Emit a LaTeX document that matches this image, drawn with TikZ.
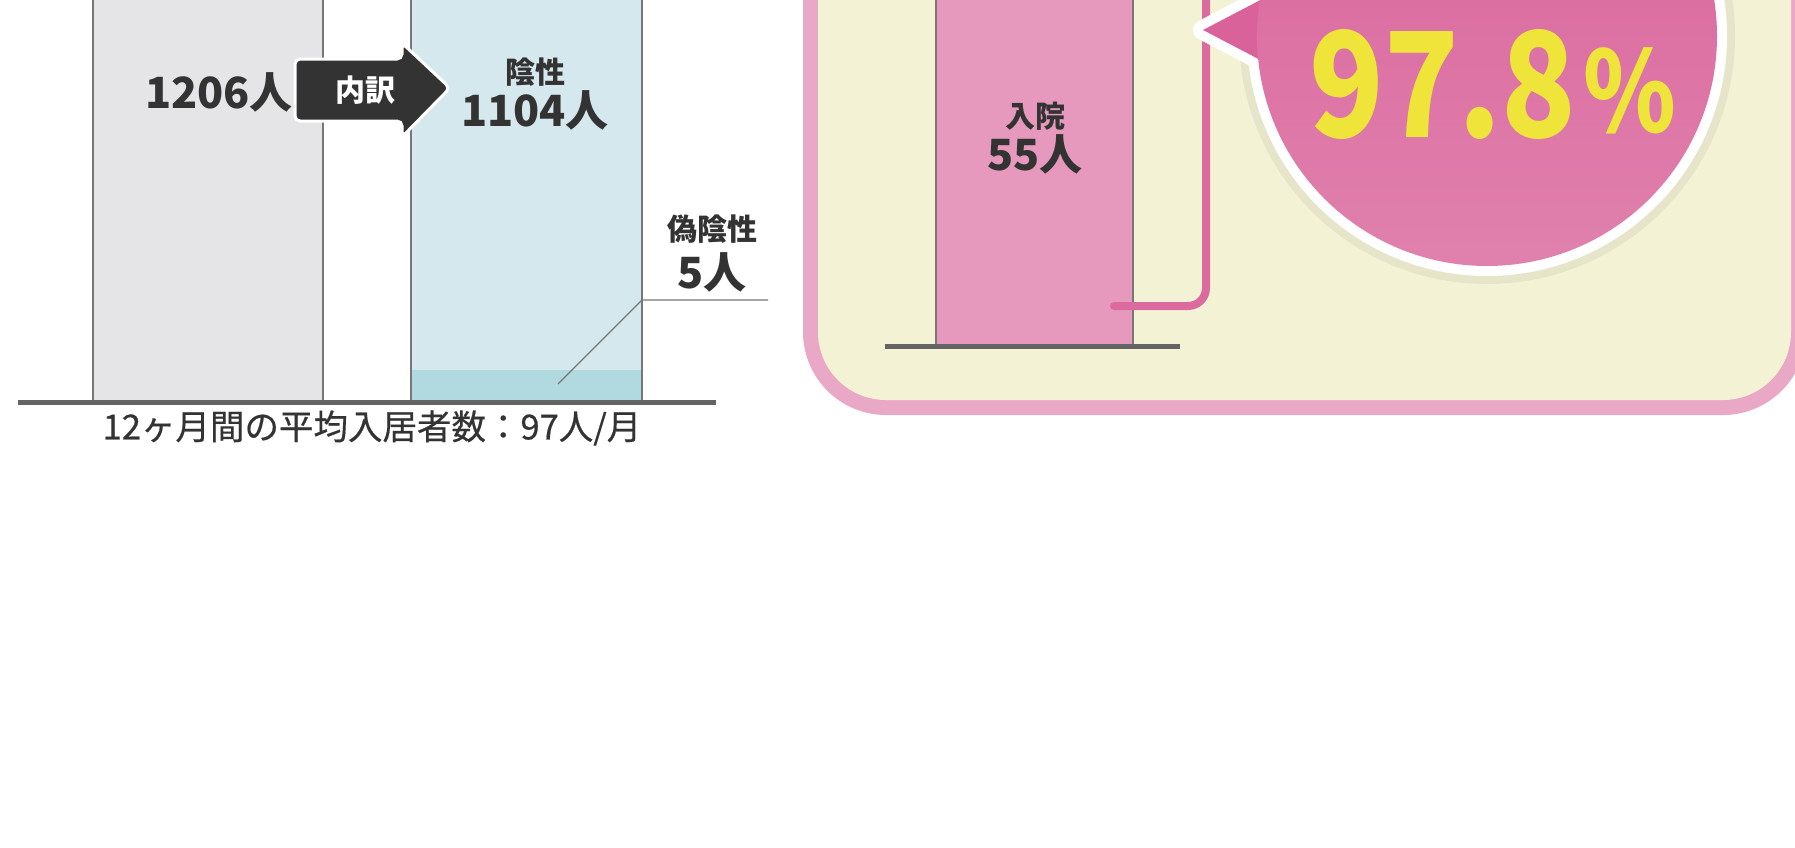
\documentclass[tikz,border=0pt]{standalone}
\usepackage{fontspec}
\setmainfont{Noto Sans CJK JP}
\newfontfamily\numfont[FakeStretch=0.84]{Noto Sans CJK JP}
\newfontfamily\capfont[FakeBold=0.5]{Noto Sans CJK JP}
\usepackage{tikz}
\usetikzlibrary{positioning}
\definecolor{ink}{HTML}{333333}
\definecolor{greybar}{HTML}{E5E5E7}
\definecolor{barline}{HTML}{777777}
\definecolor{negblue}{HTML}{D5E8ED}
\definecolor{fnblue}{HTML}{B0DAE0}
\definecolor{axisgray}{HTML}{646464}
\definecolor{arrowdk}{HTML}{333333}
\definecolor{panelpk}{HTML}{E9A8C6}
\definecolor{cream}{HTML}{F3F2D5}
\definecolor{hospk}{HTML}{E699BC}
\definecolor{linepk}{HTML}{DB6A9F}
\definecolor{bubtop}{HTML}{D9629A}
\definecolor{bubbot}{HTML}{E081AD}
\definecolor{yel}{HTML}{EFE43A}

\begin{document}
\begin{tikzpicture}[x=1pt,y=-1pt,
    every node/.style={text=ink,inner sep=0pt},
    lbl/.style={font=\bfseries\fontsize{30}{30}\selectfont},
    num/.style={font=\bfseries\fontsize{43}{43}\selectfont},
    captxt/.style={font=\capfont\fontsize{34.5}{34.5}\selectfont},
    bar/.style={draw=barline,line width=1.5pt},
    axis/.style={draw=axisgray,line width=5pt},
    leader/.style={draw=barline,line width=1.2pt}]
    \useasboundingbox (0,0) rectangle (1795,847);
    \clip (0,0) rectangle (1795,847);
    \fill[white] (0,0) rectangle (1795,847);

    \draw[bar,fill=greybar] (93,-10) rectangle (323,402);
    \fill[negblue] (411,-10) rectangle (642,402);
    \fill[fnblue] (411,370) rectangle (642,402);
    \draw[bar] (411,-10) -- (411,402) (642,-10) -- (642,402);
    \draw[axis] (18,402) -- (716,402);
    \draw[fill=arrowdk,draw=white,line width=3pt,rounded corners=5pt]
        (295,59) -- (402,59) -- (402,43) -- (450,88) -- (402,137) -- (402,121) -- (295,121) -- cycle;
    \node[num] (total) at (219,92) {1206人};
    \node[lbl,text=white] (split) at (365,90) {内訳};
    \node[lbl] (neg) at (535,72) {陰性};
    \node[num,below=4pt of neg] (negnum) {1104人};
    \node[lbl] (fneg) at (712,229) {偽陰性};
    \node[num,below=9pt of fneg] (fnegnum) {5人};
    \coordinate (fnpt) at (558,384);
    \coordinate (fnbend) at (642,300);
    \coordinate (fnend) at (768,300);
    \draw[leader] (fnpt) -- (fnbend) -- (fnend);
    \node[captxt] (caption) at (372,428) {12ヶ月間の平均入居者数：97人/月};

    \fill[panelpk,rounded corners=83pt] (803,-100) rectangle (1806,415);
    \fill[cream,rounded corners=68pt] (818,-100) rectangle (1791,400);
    \draw[bar,fill=hospk] (936,-10) rectangle (1133,346);
    \draw[axis] (885,346) -- (1180,346);
    \node[lbl] (hosp) at (1035,116) {入院};
    \node[num,below=4pt of hosp] (hospnum) {55人};
    \coordinate (hospt) at (1114,306);
    \coordinate (hoscorner) at (1206,306);
    \coordinate (hostop) at (1206,-20);
    \draw[linepk,line width=8pt,line cap=round,rounded corners=18pt] (hospt) -- (hoscorner) -- (hostop);

    \coordinate (bubc) at (1487,36);
    \fill[black,opacity=0.05] (bubc) circle (248pt);
    \draw[white,line width=20pt,line join=round] (1203,30) -- (1268,-4) -- (1268,64) -- cycle;
    \draw[white,line width=20pt] (bubc) circle (230pt);
    \fill[bubtop] (1203,30) -- (1268,-4) -- (1268,64) -- cycle;
    \shade[top color=bubtop,bottom color=bubbot] (bubc) circle (230pt);
    \node[anchor=base,text=yel,font=\numfont\bfseries\fontsize{146}{146}\selectfont] (pct) at (1443,137) {97.8};
    \node[anchor=base west,text=yel,font=\numfont\bfseries\fontsize{112}{112}\selectfont] (pctsign) at (1583,132) {\%};
\end{tikzpicture}
\end{document}
